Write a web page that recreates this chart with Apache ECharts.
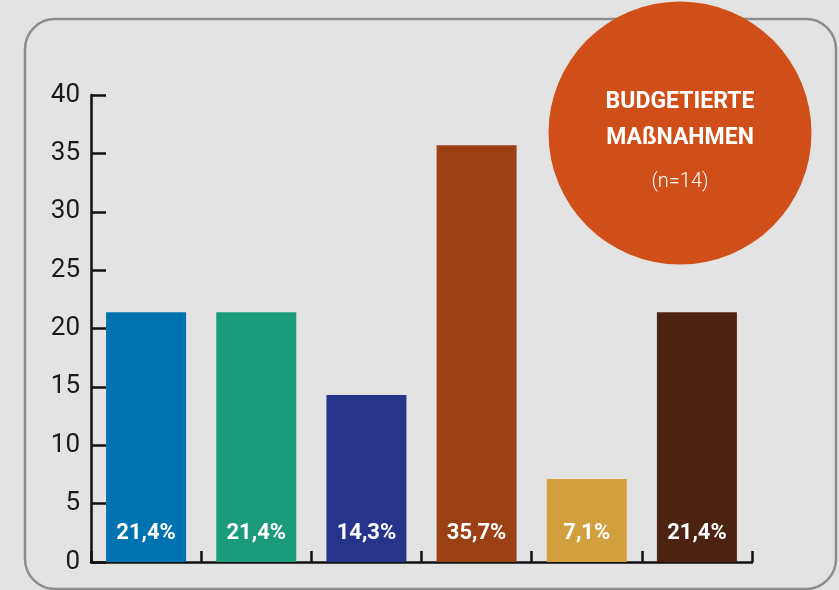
<!DOCTYPE html>
<html>
<head>
<meta charset="utf-8">
<script src="https://cdn.jsdelivr.net/npm/echarts@6/dist/echarts.min.js"></script>
<style>
html,body{margin:0;padding:0;background:#e3e3e3;}
#chart{width:839px;height:590px;}
</style>
</head>
<body>
<div id="chart"></div>
<script>
const categories = ['1', '2', '3', '4', '5', '6'];
const values = [21.4, 21.4, 14.3, 35.7, 7.1, 21.4];
const barColors = ['#0072b0', '#1b9b7a', '#26358b', '#9b3f14', '#d19f3d', '#4b2310'];
const yTicks = [0, 5, 10, 15, 20, 25, 30, 35, 40];
const titleLines = ['BUDGETIERTE', 'MAßNAHMEN'];
const subtitle = '(n=14)';

const chart = echarts.init(document.getElementById('chart'));
const option = {
  backgroundColor: '#e3e3e3',
  animation: false,
  grid: { left: 91, right: 87, top: 95, bottom: 28 },
  xAxis: {
    type: 'category',
    data: categories,
    boundaryGap: true,
    axisLine: { show: true, lineStyle: { color: '#111', width: 2.5 } },
    axisTick: { show: true, inside: true, length: 11, alignWithLabel: false, interval: 0, lineStyle: { color: '#111', width: 2.5 } },
    axisLabel: { show: false, interval: 0 }
  },
  yAxis: {
    type: 'value',
    min: yTicks[0],
    max: yTicks[yTicks.length - 1],
    interval: 5,
    splitLine: { show: false },
    axisLine: { show: true, lineStyle: { color: '#111', width: 2.5 } },
    axisTick: { show: true, inside: true, length: 15, lineStyle: { color: '#111', width: 2.5 } },
    axisLabel: { color: '#1a1a1a', fontFamily: 'Roboto', fontWeight: 'normal', fontSize: 26, margin: 11 }
  },
  series: [{
    type: 'bar',
    barWidth: 80,
    data: values.map((v, i) => ({ value: v, itemStyle: { color: barColors[i] } })),
    label: {
      show: true,
      position: 'insideBottom',
      distance: 18,
      color: '#fff',
      fontFamily: 'Roboto',
      fontWeight: 'bold',
      fontSize: 22,
      formatter: p => String(p.value).replace('.', ',') + '%'
    },
    z: 3
  }],
  graphic: [
    {
      type: 'rect', z: -1, silent: true,
      shape: { x: 25, y: 19, width: 811, height: 570, r: 30 },
      style: { fill: 'none', stroke: '#8c8c8c', lineWidth: 2.5 }
    },
    {
      type: 'circle', z: 10, silent: true,
      shape: { cx: 680, cy: 133, r: 131.5 },
      style: { fill: '#d04f18' }
    },
    {
      type: 'text', z: 11, silent: true, x: 680, y: 102,
      style: { text: titleLines[0], fill: '#fff', font: 'bold 23px Roboto', align: 'center', verticalAlign: 'middle' }
    },
    {
      type: 'text', z: 11, silent: true, x: 680, y: 138,
      style: { text: titleLines[1], fill: '#fff', font: 'bold 23px Roboto', align: 'center', verticalAlign: 'middle' }
    },
    {
      type: 'text', z: 11, silent: true, x: 680, y: 182,
      style: { text: subtitle, fill: '#fff', font: '300 20px Roboto', align: 'center', verticalAlign: 'middle' }
    }
  ]
};
chart.setOption(option);
</script>
</body>
</html>
